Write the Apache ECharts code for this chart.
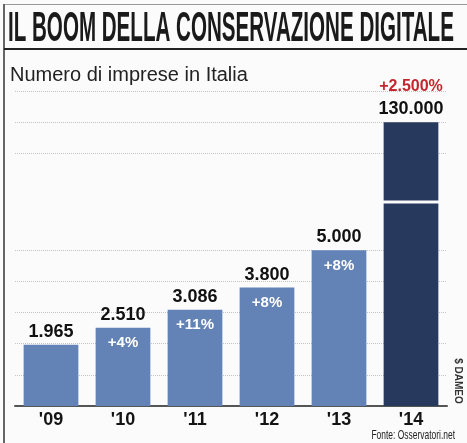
<!DOCTYPE html>
<html>
<head>
<meta charset="utf-8">
<script src="https://cdn.jsdelivr.net/npm/echarts@6/dist/echarts.min.js"></script>
<style>
  html, body { margin: 0; padding: 0; background: #fbfbfb; }
  #chart { width: 467px; height: 443px; }
</style>
</head>
<body>
<div id="chart"></div>
<script>
// dati
var anni = ["'09", "'10", "'11", "'12", "'13", "'14"];
var imprese = [1965, 2510, 3086, 3800, 5000, 130000];
var crescita = ['', '+4%', '+11%', '+8%', '+8%', '+2.500%'];

var FONT = "'Liberation Sans', Arial, sans-serif";

function puntini(v) {
    return String(v).replace(/\B(?=(\d{3})+(?!\d))/g, '.');
}

var myChart = echarts.init(document.getElementById('chart'));

var option = {
    backgroundColor: '#fbfbfb',
    animation: false,
    grid: { left: 15, right: 20, top: 91, bottom: 37 },
    xAxis: {
        type: 'category',
        data: anni,
        axisLine: { lineStyle: { color: '#555', width: 2 } },
        axisTick: { show: false },
        axisLabel: {
            margin: 5,
            fontFamily: FONT,
            fontSize: 18,
            fontWeight: 'bold',
            color: '#141414'
        }
    },
    yAxis: {
        type: 'value',
        min: 0,
        max: 131000,
        interval: 1000,
        breaks: [{ start: 6500, end: 127500, gap: 110 }],
        breakArea: {
            show: true,
            expandOnClick: false,
            zigzagAmplitude: 0,
            zigzagZ: 100,
            itemStyle: { color: '#fbfbfb', borderWidth: 0, borderColor: '#fbfbfb', opacity: 1 }
        },
        axisLine: { show: false },
        axisTick: { show: false },
        axisLabel: { show: false },
        splitLine: { lineStyle: { color: '#c4c4c4', type: 'dotted', width: 1 } }
    },
    series: [
        {
            name: 'imprese',
            type: 'bar',
            data: imprese,
            barCategoryGap: '24%',
            barGap: '-100%',
            itemStyle: {
                color: function (p) {
                    return p.dataIndex === imprese.length - 1 ? '#28395e' : '#6382b6';
                }
            },
            label: {
                show: true,
                position: 'top',
                distance: 3,
                formatter: function (p) {
                    if (p.dataIndex === imprese.length - 1) {
                        return '{r|' + crescita[p.dataIndex] + '}\n{v|' + puntini(p.value) + '}';
                    }
                    return '{v|' + puntini(p.value) + '}';
                },
                rich: {
                    v: { fontFamily: FONT, fontSize: 18, fontWeight: 'bold', color: '#111', lineHeight: 20 },
                    r: { fontFamily: FONT, fontSize: 16, fontWeight: 'bold', color: '#c4262e', lineHeight: 26 }
                }
            }
        },
        {
            name: 'crescita',
            type: 'bar',
            data: imprese,
            barCategoryGap: '24%',
            barGap: '-100%',
            silent: true,
            itemStyle: { color: 'rgba(0,0,0,0)' },
            label: {
                show: true,
                position: 'insideTop',
                distance: 8,
                fontFamily: FONT,
                fontSize: 15,
                fontWeight: 'bold',
                color: '#fff',
                formatter: function (p) {
                    return p.dataIndex === imprese.length - 1 ? '' : crescita[p.dataIndex];
                }
            }
        }
    ],
    graphic: [
        { type: 'line', shape: { x1: 4, y1: 4.5, x2: 467, y2: 4.5 }, style: { stroke: '#999', lineWidth: 1 } },
        { type: 'line', shape: { x1: 4, y1: 4, x2: 4, y2: 443 }, style: { stroke: '#666', lineWidth: 2 } },
        { type: 'line', shape: { x1: 4, y1: 49, x2: 467, y2: 49 }, style: { stroke: '#222', lineWidth: 2 } },
        {
            type: 'text', x: 8, y: 29, scaleX: 0.49,
            style: {
                text: 'IL BOOM DELLA CONSERVAZIONE DIGITALE',
                fontFamily: FONT, fontSize: 42, fontWeight: 'bold', fill: '#1a1a1a',
                textAlign: 'left', textVerticalAlign: 'middle'
            }
        },
        {
            type: 'text', x: 10, y: 75,
            style: {
                text: 'Numero di imprese in Italia',
                fontFamily: FONT, fontSize: 20, fill: '#222',
                textAlign: 'left', textVerticalAlign: 'middle'
            }
        },
        {
            type: 'text', x: 455, y: 435, scaleX: 0.65,
            style: {
                text: 'Fonte: Osservatori.net',
                fontFamily: FONT, fontSize: 13, fill: '#222',
                textAlign: 'right', textVerticalAlign: 'middle'
            }
        },
        {
            type: 'text', x: 458, y: 381, rotation: -Math.PI / 2,
            style: {
                text: '$ DAMEO',
                fontFamily: FONT, fontSize: 10, fontWeight: 'bold', fill: '#333',
                textAlign: 'center', textVerticalAlign: 'middle'
            }
        }
    ]
};

myChart.setOption(option);
</script>
</body>
</html>
